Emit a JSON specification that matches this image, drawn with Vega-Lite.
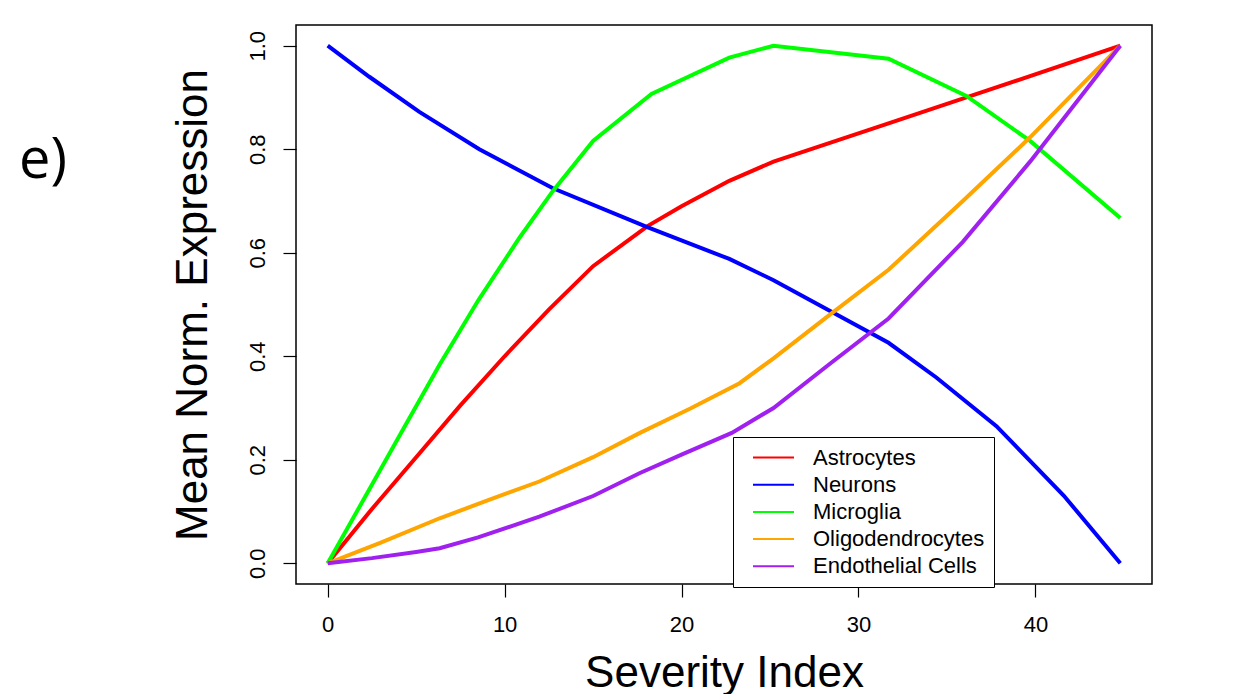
{
  "$schema": "https://vega.github.io/schema/vega-lite/v6.json",
  "width": 856,
  "height": 559,
  "autosize": {"type": "none"},
  "padding": {"left": 296, "top": 25, "right": 81, "bottom": 110},
  "background": "white",
  "title": {
    "text": "e)",
    "anchor": "start",
    "frame": "group",
    "orient": "top",
    "font": "Open Sans",
    "fontSize": 56,
    "fontWeight": "normal",
    "color": "black",
    "baseline": "alphabetic",
    "offset": 0,
    "dx": -277,
    "dy": 209
  },
  "config": {
    "view": {"stroke": "black", "strokeWidth": 1.5},
    "font": "Liberation Sans",
    "axis": {
      "domain": false,
      "grid": false,
      "ticks": true,
      "tickColor": "black",
      "tickWidth": 1.2,
      "tickSize": 13,
      "labelFont": "Liberation Sans",
      "labelFontSize": 22,
      "labelColor": "black",
      "titleFont": "Liberation Sans",
      "titleFontSize": 44,
      "titleFontWeight": "normal",
      "titleColor": "black"
    },
    "legend": {
      "orient": "none",
      "legendX": 437,
      "legendY": 412,
      "padding": 9,
      "strokeColor": "black",
      "fillColor": "white",
      "labelFont": "Liberation Sans",
      "labelFontSize": 22,
      "labelColor": "black",
      "labelLimit": 0,
      "symbolType": "M-2,0H2",
      "symbolSize": 420,
      "symbolStrokeWidth": 2,
      "symbolOffset": 20,
      "labelOffset": 28,
      "rowPadding": 4.2
    }
  },
  "data": {
    "values": [
      {"x": 0, "y": 0, "cell": "Astrocytes"},
      {"x": 2.5, "y": 0.105, "cell": "Astrocytes"},
      {"x": 5, "y": 0.205, "cell": "Astrocytes"},
      {"x": 7.5, "y": 0.305, "cell": "Astrocytes"},
      {"x": 10, "y": 0.4, "cell": "Astrocytes"},
      {"x": 12.5, "y": 0.49, "cell": "Astrocytes"},
      {"x": 15, "y": 0.574, "cell": "Astrocytes"},
      {"x": 18.1, "y": 0.652, "cell": "Astrocytes"},
      {"x": 20, "y": 0.69, "cell": "Astrocytes"},
      {"x": 22.7, "y": 0.739, "cell": "Astrocytes"},
      {"x": 25.2, "y": 0.776, "cell": "Astrocytes"},
      {"x": 31.7, "y": 0.85, "cell": "Astrocytes"},
      {"x": 36.1, "y": 0.9, "cell": "Astrocytes"},
      {"x": 44.8, "y": 1.0, "cell": "Astrocytes"},

      {"x": 0, "y": 1.0, "cell": "Neurons"},
      {"x": 2.35, "y": 0.94, "cell": "Neurons"},
      {"x": 5.18, "y": 0.872, "cell": "Neurons"},
      {"x": 8.57, "y": 0.8, "cell": "Neurons"},
      {"x": 12.7, "y": 0.725, "cell": "Neurons"},
      {"x": 18.1, "y": 0.649, "cell": "Neurons"},
      {"x": 22.7, "y": 0.588, "cell": "Neurons"},
      {"x": 25.2, "y": 0.547, "cell": "Neurons"},
      {"x": 31.7, "y": 0.426, "cell": "Neurons"},
      {"x": 34.4, "y": 0.359, "cell": "Neurons"},
      {"x": 37.8, "y": 0.265, "cell": "Neurons"},
      {"x": 41.6, "y": 0.131, "cell": "Neurons"},
      {"x": 44.8, "y": 0, "cell": "Neurons"},

      {"x": 0, "y": 0, "cell": "Microglia"},
      {"x": 4.2, "y": 0.255, "cell": "Microglia"},
      {"x": 6.33, "y": 0.384, "cell": "Microglia"},
      {"x": 8.53, "y": 0.509, "cell": "Microglia"},
      {"x": 10.86, "y": 0.63, "cell": "Microglia"},
      {"x": 12.7, "y": 0.718, "cell": "Microglia"},
      {"x": 15.0, "y": 0.816, "cell": "Microglia"},
      {"x": 18.3, "y": 0.907, "cell": "Microglia"},
      {"x": 22.7, "y": 0.977, "cell": "Microglia"},
      {"x": 25.2, "y": 1.0, "cell": "Microglia"},
      {"x": 31.7, "y": 0.975, "cell": "Microglia"},
      {"x": 36.1, "y": 0.903, "cell": "Microglia"},
      {"x": 39.7, "y": 0.816, "cell": "Microglia"},
      {"x": 44.8, "y": 0.667, "cell": "Microglia"},

      {"x": 0, "y": 0, "cell": "Oligodendrocytes"},
      {"x": 3, "y": 0.04, "cell": "Oligodendrocytes"},
      {"x": 6.33, "y": 0.087, "cell": "Oligodendrocytes"},
      {"x": 9, "y": 0.121, "cell": "Oligodendrocytes"},
      {"x": 11.96, "y": 0.158, "cell": "Oligodendrocytes"},
      {"x": 15.0, "y": 0.205, "cell": "Oligodendrocytes"},
      {"x": 17.62, "y": 0.2515, "cell": "Oligodendrocytes"},
      {"x": 20.5, "y": 0.299, "cell": "Oligodendrocytes"},
      {"x": 23.28, "y": 0.348, "cell": "Oligodendrocytes"},
      {"x": 25.2, "y": 0.396, "cell": "Oligodendrocytes"},
      {"x": 28.37, "y": 0.48, "cell": "Oligodendrocytes"},
      {"x": 31.7, "y": 0.567, "cell": "Oligodendrocytes"},
      {"x": 35.9, "y": 0.7, "cell": "Oligodendrocytes"},
      {"x": 39.7, "y": 0.823, "cell": "Oligodendrocytes"},
      {"x": 44.8, "y": 1.0, "cell": "Oligodendrocytes"},

      {"x": 0, "y": 0, "cell": "Endothelial Cells"},
      {"x": 2.5, "y": 0.01, "cell": "Endothelial Cells"},
      {"x": 5, "y": 0.022, "cell": "Endothelial Cells"},
      {"x": 6.33, "y": 0.029, "cell": "Endothelial Cells"},
      {"x": 8.5, "y": 0.05, "cell": "Endothelial Cells"},
      {"x": 11.96, "y": 0.09, "cell": "Endothelial Cells"},
      {"x": 15, "y": 0.13, "cell": "Endothelial Cells"},
      {"x": 17.62, "y": 0.174, "cell": "Endothelial Cells"},
      {"x": 20, "y": 0.21, "cell": "Endothelial Cells"},
      {"x": 22.84, "y": 0.252, "cell": "Endothelial Cells"},
      {"x": 25.2, "y": 0.3, "cell": "Endothelial Cells"},
      {"x": 28.37, "y": 0.385, "cell": "Endothelial Cells"},
      {"x": 31.7, "y": 0.473, "cell": "Endothelial Cells"},
      {"x": 35.9, "y": 0.621, "cell": "Endothelial Cells"},
      {"x": 39.7, "y": 0.776, "cell": "Endothelial Cells"},
      {"x": 44.8, "y": 1.0, "cell": "Endothelial Cells"}
    ]
  },
  "mark": {"type": "line", "strokeWidth": 4, "clip": true},
  "encoding": {
    "x": {
      "field": "x",
      "type": "quantitative",
      "scale": {"domain": [-1.792, 46.592], "nice": false, "zero": false},
      "axis": {
        "title": "Severity Index",
        "values": [0, 10, 20, 30, 40],
        "labelPadding": 17,
        "titlePadding": 16
      }
    },
    "y": {
      "field": "y",
      "type": "quantitative",
      "scale": {"domain": [-0.04, 1.04], "nice": false, "zero": false},
      "axis": {
        "title": "Mean Norm. Expression",
        "values": [0, 0.2, 0.4, 0.6, 0.8, 1.0],
        "format": ".1f",
        "labelAngle": 270,
        "labelAlign": "center",
        "labelBaseline": "alphabetic",
        "labelPadding": 19,
        "titlePadding": 31
      }
    },
    "color": {
      "field": "cell",
      "type": "nominal",
      "title": null,
      "sort": ["Astrocytes", "Neurons", "Microglia", "Oligodendrocytes", "Endothelial Cells"],
      "scale": {
        "domain": ["Astrocytes", "Neurons", "Microglia", "Oligodendrocytes", "Endothelial Cells"],
        "range": ["#FF0000", "#0000FF", "#00FF00", "#FFA500", "#A020F0"]
      }
    },
    "order": {"field": "x", "type": "quantitative"}
  }
}
